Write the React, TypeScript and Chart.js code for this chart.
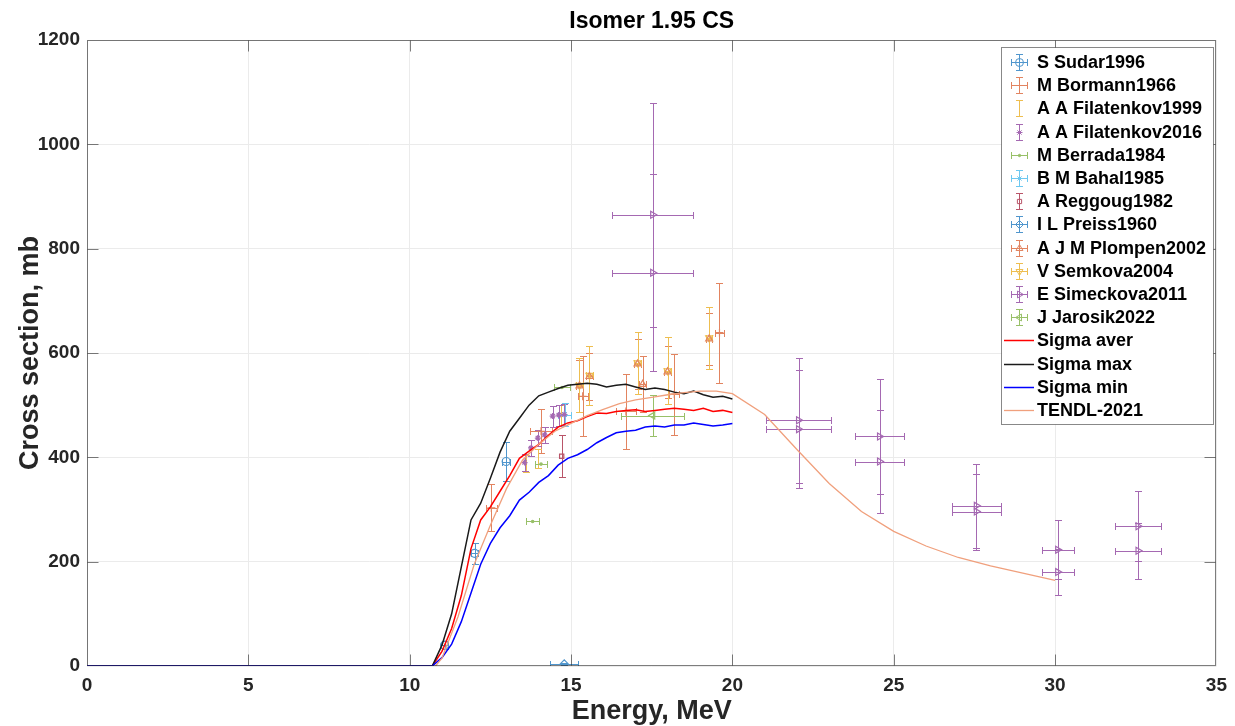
import React, { useEffect, useRef } from "react";
import { Chart, registerables } from "chart.js";
import { drawPoint } from "chart.js/helpers";
Chart.register(...registerables);

// ---------------- data ----------------
const xTicks = [0, 5, 10, 15, 20, 25, 30, 35];
const yTicks = [0, 200, 400, 600, 800, 1000, 1200];

const sudarE = [11.08, 12.01, 12.99];
const sudarS = [40, 216, 392];
const sudarDE = [0.1, 0.12, 0.12];
const sudarDS = [8, 20, 37];

const bormannE = [12.53, 14.07, 15.36, 16.7, 18.2, 19.6];
const bormannS = [303, 450, 517, 488, 521, 639];
const bormannDE = [0.17, 0.35, 0.15, 0.3, 0.15, 0.15];
const bormannDS = [45, 42, 77, 72, 78, 96];

const fil99E = [13.59, 13.97, 14.7];
const fil99S = [388, 398, 480];
const fil99DS = [17, 18, 20];

const fil16E = [13.56, 13.76, 13.97, 14.18, 14.43, 14.62, 14.79];
const fil16S = [390, 418, 437, 443, 479, 481, 482];
const fil16DS = [16, 16, 16, 16, 20, 20, 20];

const berradaE = [13.81, 14.07, 14.72];
const berradaS = [277, 387, 534];
const berradaDE = [0.2, 0.2, 0.26];

const bahalE = [14.8];
const bahalS = [482];
const bahalDE = [0.2];
const bahalDS = [22];

const reggougE = [14.71];
const reggougS = [402];
const reggougDS = [40];

const preissE = [14.79];
const preissS = [4];
const preissDE = [0.44];
const preissDS = [2];

const plompenE = [15.26, 15.57, 17.06, 17.22, 17.99, 19.28];
const plompenS = [537, 555, 579, 540, 564, 627];
const plompenDE = [0.1, 0.1, 0.1, 0.1, 0.1, 0.1];
const plompenDS = [50, 45, 48, 54, 50, 50];

const semkovaE = [15.26, 15.57, 17.06, 17.99, 19.28];
const semkovaS = [538, 557, 581, 566, 629];
const semkovaDE = [0.1, 0.1, 0.1, 0.1, 0.1];
const semkovaDS = [52, 56, 59, 64, 60];

const simeckovaE = [17.53, 17.53, 22.05, 22.05, 24.56, 24.56, 27.56, 27.56, 30.08, 30.08, 32.57, 32.57];
const simeckovaS = [865, 754, 471, 454, 440, 392, 307, 296, 223, 180, 268, 221];
const simeckovaDE = [1.25, 1.25, 1, 1, 0.75, 0.75, 0.75, 0.75, 0.5, 0.5, 0.7, 0.7];
const simeckovaDS = [215, 189, 120, 113, 110, 98, 80, 73, 56, 44, 67, 54];

const jarosikE = [17.53];
const jarosikS = [480];
const jarosikDE = [0.98];
const jarosikDS = [40];

const sigmaE = [0, 10.7, 11.0, 11.3, 11.6, 11.9, 12.2, 12.5, 12.8, 13.1, 13.4, 13.7, 14.0, 14.3, 14.6, 14.9, 15.2, 15.5, 15.8, 16.1, 16.4, 16.7, 17.0, 17.3, 17.6, 17.9, 18.2, 18.5, 18.8, 19.1, 19.4, 19.7, 20.0];
const sigmaAver = [0, 0, 28, 72, 135, 225, 280, 305, 335, 365, 398, 412, 425, 442, 458, 466, 470, 478, 485, 484, 488, 490, 491, 488, 490, 492, 494, 492, 490, 494, 488, 490, 486];
const sigmaMax = [0, 0, 40, 100, 190, 280, 312, 360, 410, 450, 475, 500, 518, 525, 532, 538, 540, 542, 540, 535, 538, 540, 535, 530, 533, 530, 525, 522, 527, 520, 515, 517, 512];
const sigmaMin = [0, 0, 16, 42, 85, 140, 195, 235, 265, 288, 318, 333, 352, 365, 385, 398, 405, 415, 428, 438, 447, 450, 452, 458, 460, 458, 462, 462, 466, 463, 460, 462, 465];

const tendlE = [10.8, 11, 11.5, 12, 12.5, 13, 13.5, 14, 14.5, 15, 15.5, 16, 16.5, 17, 17.5, 18, 18.5, 19, 19.5, 20, 21, 22, 23, 24, 25, 26, 27, 28, 29, 30];
const tendlS = [0, 15, 95, 195, 270, 340, 395, 425, 450, 465, 480, 492, 503, 510, 515, 520, 524, 527, 527, 522, 482, 415, 350, 296, 258, 230, 208, 192, 178, 164];

// ---------------- helpers ----------------
const FONT = "'Liberation Sans', Arial, Helvetica, sans-serif";
const TXT = "#262626";

const C_BLUE = "rgb(80,150,205)";
const C_ORANGE = "rgb(226,132,96)";
const C_YELLOW = "rgb(238,190,80)";
const C_PURPLE = "rgb(165,105,178)";
const C_GREEN = "rgb(152,192,104)";
const C_LBLUE = "rgb(110,200,240)";
const C_DRED = "rgb(185,85,105)";
const C_TENDL = "rgb(240,160,125)";

function pts(xs: number[], ys: number[]) {
  return xs.map((x, i) => ({ x, y: ys[i] }));
}

function ebSet(
  label: string,
  xs: number[],
  ys: number[],
  dx: number[] | null,
  dy: number[] | null,
  color: string,
  style: any,
  rotation = 0,
  radius = 3.5,
  filled = false
) {
  return {
    type: "scatter",
    label,
    data: pts(xs, ys),
    errE: dx,
    errS: dy,
    showLine: false,
    borderColor: color,
    backgroundColor: filled ? color : "rgba(0,0,0,0)",
    pointBorderColor: color,
    pointBackgroundColor: filled ? color : "rgba(0,0,0,0)",
    pointStyle: style,
    pointRotation: rotation,
    pointRadius: radius,
    pointBorderWidth: 1.2,
    order: 10,
    isEB: true,
  };
}

function lineSet(label: string, xs: number[], ys: number[], color: string, order: number, width = 1.5) {
  return {
    type: "line",
    label,
    data: pts(xs, ys),
    borderColor: color,
    backgroundColor: color,
    borderWidth: width,
    pointRadius: 0,
    tension: 0,
    showLine: true,
    fill: false,
    order,
    isEB: false,
  };
}

function seg(ctx: CanvasRenderingContext2D, x1: number, y1: number, x2: number, y2: number) {
  ctx.beginPath();
  ctx.moveTo(x1, y1);
  ctx.lineTo(x2, y2);
  ctx.stroke();
}

const CAP = 3.5;

const errorBarPlugin = {
  id: "errorBars",
  beforeDatasetsDraw(chart: any) {
    const { ctx, chartArea, scales } = chart;
    const xs = scales.x;
    const ys = scales.y;
    ctx.save();
    ctx.beginPath();
    ctx.rect(chartArea.left, chartArea.top, chartArea.right - chartArea.left, chartArea.bottom - chartArea.top);
    ctx.clip();
    ctx.lineWidth = 1;
    chart.data.datasets.forEach((ds: any) => {
      if (!ds.isEB) return;
      ctx.strokeStyle = ds.borderColor;
      ds.data.forEach((p: any, i: number) => {
        const px = Math.round(xs.getPixelForValue(p.x)) + 0.5;
        const py = Math.round(ys.getPixelForValue(p.y)) + 0.5;
        if (ds.errS) {
          const e = ds.errS[i];
          const t = Math.round(ys.getPixelForValue(p.y + e)) + 0.5;
          const b = Math.round(ys.getPixelForValue(p.y - e)) + 0.5;
          seg(ctx, px, t, px, b);
          seg(ctx, px - CAP, t, px + CAP, t);
          seg(ctx, px - CAP, b, px + CAP, b);
        }
        if (ds.errE) {
          const e = ds.errE[i];
          const l = Math.round(xs.getPixelForValue(p.x - e)) + 0.5;
          const r = Math.round(xs.getPixelForValue(p.x + e)) + 0.5;
          seg(ctx, l, py, r, py);
          seg(ctx, l, py - CAP, l, py + CAP);
          seg(ctx, r, py - CAP, r, py + CAP);
        }
      });
    });
    ctx.restore();
  },
};

const framePlugin = {
  id: "frame",
  afterDatasetsDraw(chart: any) {
    const { ctx, chartArea, scales } = chart;
    const { left, right, top, bottom } = chartArea;
    ctx.save();
    ctx.strokeStyle = "rgba(38,38,38,0.6)";
    ctx.lineWidth = 1;
    const L = Math.round(left) + 0.5, R = Math.round(right) - 0.5, T = Math.round(top) + 0.5, B = Math.round(bottom) - 0.5;
    ctx.strokeRect(L, T, R - L, B - T);
    const tl = 11;
    xTicks.forEach((v) => {
      const px = Math.round(scales.x.getPixelForValue(v)) + 0.5;
      if (px <= L + 1 || px >= R - 1) return;
      seg(ctx, px, B, px, B - tl);
      seg(ctx, px, T, px, T + tl);
    });
    yTicks.forEach((v) => {
      const py = Math.round(scales.y.getPixelForValue(v)) + 0.5;
      if (py <= T + 1 || py >= B - 1) return;
      seg(ctx, L, py, L + tl, py);
      seg(ctx, R, py, R - tl, py);
    });
    // title
    ctx.fillStyle = "#000000";
    ctx.font = `bold 23px ${FONT}`;
    ctx.textAlign = "center";
    ctx.textBaseline = "middle";
    ctx.fillText("Isomer 1.95 CS", (left + right) / 2, 22);
    ctx.restore();
  },
};

const legendPlugin = {
  id: "customLegend",
  afterDraw(chart: any) {
    const { ctx } = chart;
    const bx = 1001.5, by = 47.5, bw = 212, bh = 377;
    ctx.save();
    ctx.fillStyle = "#ffffff";
    ctx.fillRect(bx, by, bw, bh);
    ctx.strokeStyle = "rgba(38,38,38,0.55)";
    ctx.lineWidth = 1;
    ctx.strokeRect(bx, by, bw, bh);
    const sets = chart.data.datasets;
    const step = 23.2;
    sets.forEach((ds: any, i: number) => {
      const cy = Math.round(62 + i * step) + 0.5;
      const cx = 1019.5;
      ctx.lineWidth = 1;
      ctx.strokeStyle = ds.borderColor;
      if (ds.isEB) {
        if (ds.errS) {
          seg(ctx, cx, cy - 8, cx, cy + 8);
          seg(ctx, cx - CAP, cy - 8, cx + CAP, cy - 8);
          seg(ctx, cx - CAP, cy + 8, cx + CAP, cy + 8);
        }
        if (ds.errE) {
          seg(ctx, cx - 8, cy, cx + 8, cy);
          seg(ctx, cx - 8, cy - CAP, cx - 8, cy + CAP);
          seg(ctx, cx + 8, cy - CAP, cx + 8, cy + CAP);
        }
        if (ds.pointRadius > 0) {
          ctx.fillStyle = ds.pointBackgroundColor;
          ctx.strokeStyle = ds.borderColor;
          drawPoint(ctx, { pointStyle: ds.pointStyle, rotation: ds.pointRotation, radius: ds.pointRadius, borderWidth: 1 }, cx, cy);
        }
      } else {
        ctx.lineWidth = ds.borderWidth;
        seg(ctx, 1004, cy, 1034, cy);
      }
      ctx.fillStyle = "#000000";
      ctx.font = `bold 18px ${FONT}`;
      ctx.textAlign = "left";
      ctx.textBaseline = "middle";
      ctx.fillText(ds.label, 1037, cy + 1);
    });
    ctx.restore();
  },
};

export default function App() {
  const ref = useRef<HTMLCanvasElement | null>(null);
  useEffect(() => {
    if (!ref.current) return;
    const datasets: any[] = [
      ebSet("S Sudar1996", sudarE, sudarS, sudarDE, sudarDS, C_BLUE, "circle", 0, 4),
      ebSet("M Bormann1966", bormannE, bormannS, bormannDE, bormannDS, C_ORANGE, "cross", 0, 4),
      ebSet("A A Filatenkov1999", fil99E, fil99S, null, fil99DS, C_YELLOW, "circle", 0, 0),
      ebSet("A A Filatenkov2016", fil16E, fil16S, null, fil16DS, C_PURPLE, "star", 0, 3),
      ebSet("M Berrada1984", berradaE, berradaS, berradaDE, null, C_GREEN, "circle", 0, 1.2, true),
      ebSet("B M Bahal1985", bahalE, bahalS, bahalDE, bahalDS, C_LBLUE, "star", 0, 3),
      ebSet("A Reggoug1982", reggougE, reggougS, null, reggougDS, C_DRED, "rect", 0, 3),
      ebSet("I L Preiss1960", preissE, preissS, preissDE, preissDS, C_BLUE, "rectRot", 0, 4),
      ebSet("A J M Plompen2002", plompenE, plompenS, plompenDE, plompenDS, C_ORANGE, "triangle", 0, 4),
      ebSet("V Semkova2004", semkovaE, semkovaS, semkovaDE, semkovaDS, C_YELLOW, "triangle", 180, 4),
      ebSet("E Simeckova2011", simeckovaE, simeckovaS, simeckovaDE, simeckovaDS, C_PURPLE, "triangle", 90, 4),
      ebSet("J Jarosik2022", jarosikE, jarosikS, jarosikDE, jarosikDS, C_GREEN, "triangle", -90, 4),
      lineSet("Sigma aver", sigmaE, sigmaAver, "#ff0000", 3),
      lineSet("Sigma max", sigmaE, sigmaMax, "#1a1a1a", 2),
      lineSet("Sigma min", sigmaE, sigmaMin, "#0000ff", 1),
      lineSet("TENDL-2021", tendlE, tendlS, C_TENDL, 0, 1.3),
    ];
    const tickFont = { family: FONT, size: 19, weight: "bold" as const };
    const titleFont = { family: FONT, size: 27, weight: "bold" as const };
    const chart = new Chart(ref.current, {
      type: "scatter",
      data: { datasets } as any,
      plugins: [errorBarPlugin, framePlugin, legendPlugin] as any,
      options: {
        responsive: false,
        animation: false,
        devicePixelRatio: 1,
        layout: { padding: { left: 10, right: 17, top: 40, bottom: 0 } },
        plugins: {
          legend: { display: false },
          title: { display: false },
          tooltip: { enabled: false },
        },
        scales: {
          x: {
            type: "linear",
            min: 0,
            max: 35,
            afterBuildTicks: (s: any) => {
              s.ticks = xTicks.map((v) => ({ value: v }));
            },
            afterFit: (s: any) => {
              s.height = 60;
            },
            ticks: { font: tickFont, color: TXT, padding: 8, maxRotation: 0, callback: (v: any) => String(v) },
            grid: { color: "#ebebeb", drawTicks: false, lineWidth: 1 },
            border: { display: false },
            title: { display: true, text: "Energy, MeV", font: titleFont, color: TXT, padding: { top: 0, bottom: -2 } },
          },
          y: {
            type: "linear",
            min: 0,
            max: 1200,
            afterBuildTicks: (s: any) => {
              s.ticks = yTicks.map((v) => ({ value: v }));
            },
            afterFit: (s: any) => {
              s.width = 77;
            },
            ticks: { font: tickFont, color: TXT, padding: 7, callback: (v: any) => String(v) },
            grid: { color: "#ebebeb", drawTicks: false, lineWidth: 1 },
            border: { display: false },
            title: { display: true, text: "Cross section, mb", font: titleFont, color: TXT, padding: { top: 4, bottom: 4 } },
          },
        },
      } as any,
    });
    return () => chart.destroy();
  }, []);
  return (
    <div style={{ position: "absolute", left: 0, top: 0, width: 1235, height: 726 }}>
      <canvas ref={ref} width={1235} height={726} style={{ width: 1235, height: 726, display: "block" }} />
    </div>
  );
}
